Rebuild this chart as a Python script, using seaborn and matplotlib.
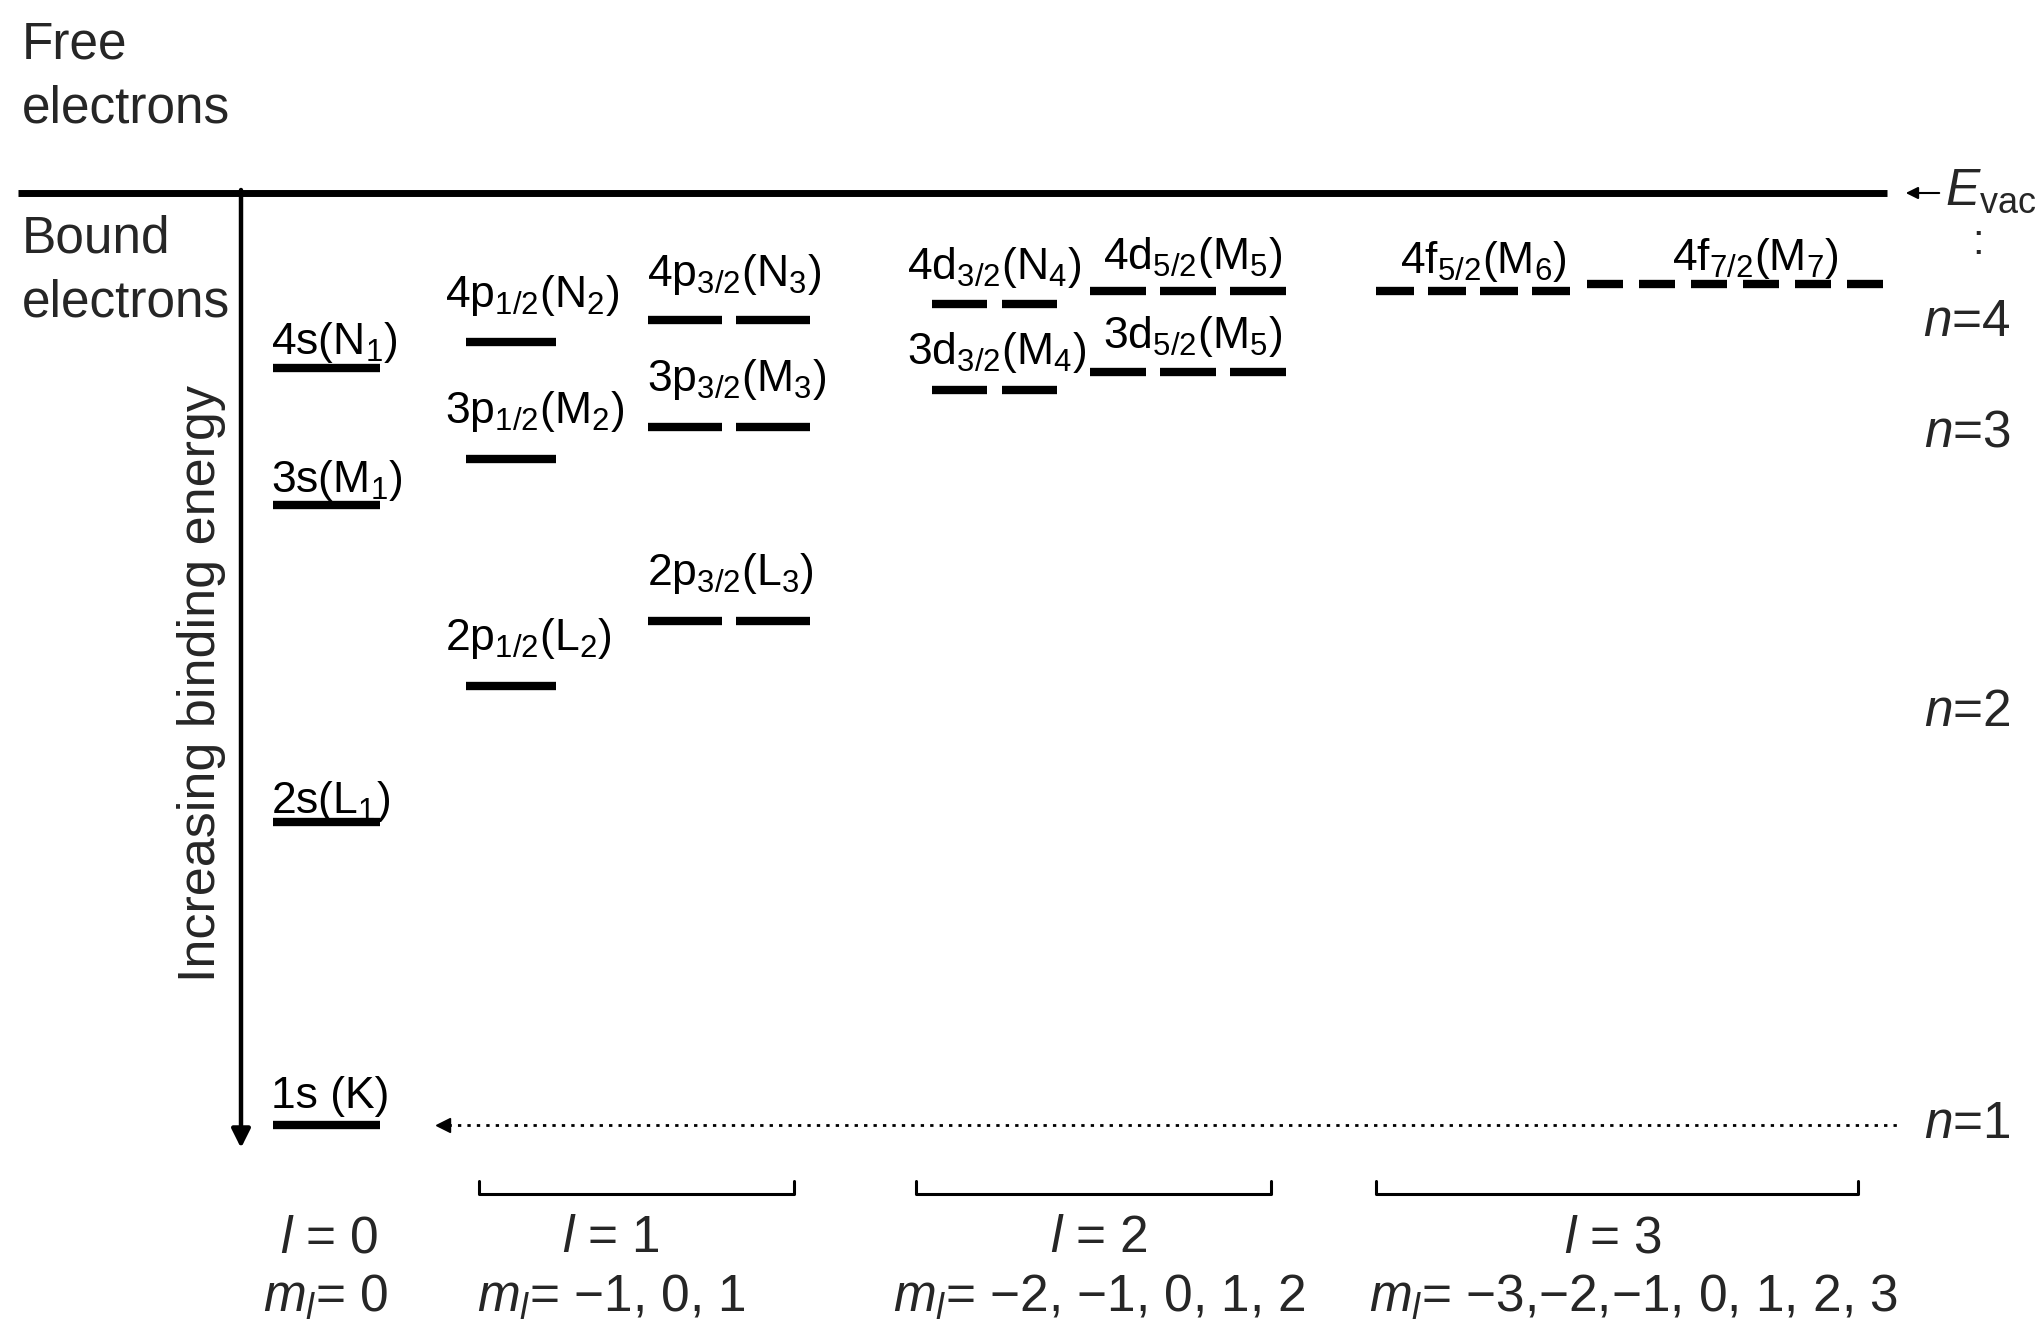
import numpy as np
import pandas as pd
import matplotlib
matplotlib.use("Agg")
import matplotlib.pyplot as plt
import seaborn as sns

# ---------------- data ----------------
level_names = [r"4s(N$_1$)", r"3s(M$_1$)", r"2s(L$_1$)", "1s (K)",
               r"4p$_{1/2}$(N$_2$)", r"3p$_{1/2}$(M$_2$)", r"2p$_{1/2}$(L$_2$)",
               r"4p$_{3/2}$(N$_3$)", r"3p$_{3/2}$(M$_3$)", r"2p$_{3/2}$(L$_3$)",
               r"4d$_{3/2}$(N$_4$)", r"3d$_{3/2}$(M$_4$)",
               r"4d$_{5/2}$(M$_5$)", r"3d$_{5/2}$(M$_5$)",
               r"4f$_{5/2}$(M$_6$)", r"4f$_{7/2}$(M$_7$)"]
level_column = ["s", "s", "s", "s",
                "p1/2", "p1/2", "p1/2",
                "p3/2", "p3/2", "p3/2",
                "d3/2", "d3/2",
                "d5/2", "d5/2",
                "f5/2", "f7/2"]
# schematic binding energy below the vacuum level (arbitrary units)
level_energy = [175, 312, 629, 932,
                149, 266, 493,
                127, 234, 428,
                111, 197,
                98, 179,
                98, 91]
level_nbars = [1, 1, 1, 1, 1, 1, 1, 2, 2, 2, 2, 2, 3, 3, 4, 6]

shell_labels = [r"$n$=4", r"$n$=3", r"$n$=2", r"$n$=1"]
shell_energy = [130, 240, 520, 932]

l_labels = [r"$l$ = 0", r"$l$ = 1", r"$l$ = 2", r"$l$ = 3"]
ml_labels = [r"$m_l$= 0", r"$m_l$= $-$1, 0, 1", r"$m_l$= $-$2, $-$1, 0, 1, 2",
             r"$m_l$= $-$3,$-$2,$-$1, 0, 1, 2, 3"]

# ---------------- layout ----------------
# column: (first bar x, bar width, pitch, label x)
col_layout = {
    "s":    (273, 107, 0, 271),
    "p1/2": (466, 90, 0, 445),
    "p3/2": (648, 74, 88, 647),
    "d3/2": (932, 55, 70, 907),
    "d5/2": (1090, 56, 70, 1103),
    "f5/2": (1376, 38, 52, 1400),
    "f7/2": (1587, 36, 52, 1672),
}
label_gap = [14, 13, 9, 17, 35, 36, 36, 34, 36, 36, 25, 26, 22, 24, 18, 14]
l_x = [329, 611, 1099, 1613]
ml_x = [326, 611, 1099, 1633]
bracket_spans = [None, (479, 794), (916, 1271), (1376, 1858)]

sns.set_theme(style="white")
plt.rcParams['font.family'] = ['Liberation Sans', 'DejaVu Sans']
plt.rcParams['mathtext.fontset'] = 'custom'
plt.rcParams['mathtext.rm'] = 'Liberation Sans'
plt.rcParams['mathtext.it'] = 'Liberation Sans:italic'
plt.rcParams['mathtext.bf'] = 'Liberation Sans:bold'

fig = plt.figure(figsize=(20.4, 13.29), dpi=100)
ax = fig.add_axes([0, 0, 1, 1])
ax.set_xlim(0, 2040)
ax.set_ylim(1136, -193)
ax.axis("off")

# build bar segments
rows = []
seg = 0
for name, col, e, nb in zip(level_names, level_column, level_energy, level_nbars):
    x0, w, pitch, _ = col_layout[col]
    for k in range(nb):
        xs = x0 + k * pitch
        rows.append({"seg": seg, "x": xs, "E": e})
        rows.append({"seg": seg, "x": xs + w, "E": e})
        seg += 1
df = pd.DataFrame(rows)
sns.lineplot(data=df, x="x", y="E", units="seg", estimator=None, color="black",
             lw=6, ax=ax, legend=False, solid_capstyle="butt")

# level labels
for name, col, e, gap in zip(level_names, level_column, level_energy, label_gap):
    lx = col_layout[col][3]
    ax.text(lx, e - gap, name, fontsize=32, ha="left", va="baseline", color="black")

# vacuum level
ax.hlines(0, 18, 1887, color="black", lw=5)
ax.annotate("", xy=(1903, 0), xytext=(1942, 0),
            arrowprops=dict(arrowstyle="-|>", color="black", lw=1.5,
                            mutation_scale=18))
ax.text(1945, -2, r"$E$$_{\mathrm{vac}}$", fontsize=37, ha="left", va="center")
ax.text(1978, 50, ":", fontsize=30, ha="center", va="center")

# binding energy axis
ax.annotate("", xy=(241, 955), xytext=(241, -3),
            arrowprops=dict(arrowstyle="-|>", color="black", lw=3.2,
                            mutation_scale=28, shrinkA=0, shrinkB=0))
ax.text(202, 490, "Increasing binding energy", rotation=90, fontsize=37.5,
        ha="center", va="center")

# free / bound electrons
ax.text(22, -116, "Free\nelectrons", fontsize=37, ha="left", va="center", linespacing=1.42)
ax.text(22, 78, "Bound\nelectrons", fontsize=37, ha="left", va="center", linespacing=1.42)

# n=1 dotted reference line
ax.hlines(shell_energy[-1], 448, 1902, color="black", lw=2, linestyles=(0, (1.2, 2.2)))
ax.plot([443], [shell_energy[-1]], marker="<", color="black", markersize=10)

# shell labels
for lab, e in zip(shell_labels, shell_energy):
    ax.text(1967, e, lab, fontsize=37, ha="center", va="center")

# brackets
for span in bracket_spans:
    if span is None:
        continue
    a, b = span
    ax.plot([a, a, b, b], [988, 1001, 1001, 988], color="black", lw=2.2)

# l and m_l labels
for lab, x in zip(l_labels, l_x):
    ax.text(x, 1046, lab, fontsize=37, ha="center", va="center")
for lab, x in zip(ml_labels, ml_x):
    ax.text(x, 1105, lab, fontsize=37, ha="center", va="center")

fig.savefig("out.png", dpi=100, facecolor="white")
